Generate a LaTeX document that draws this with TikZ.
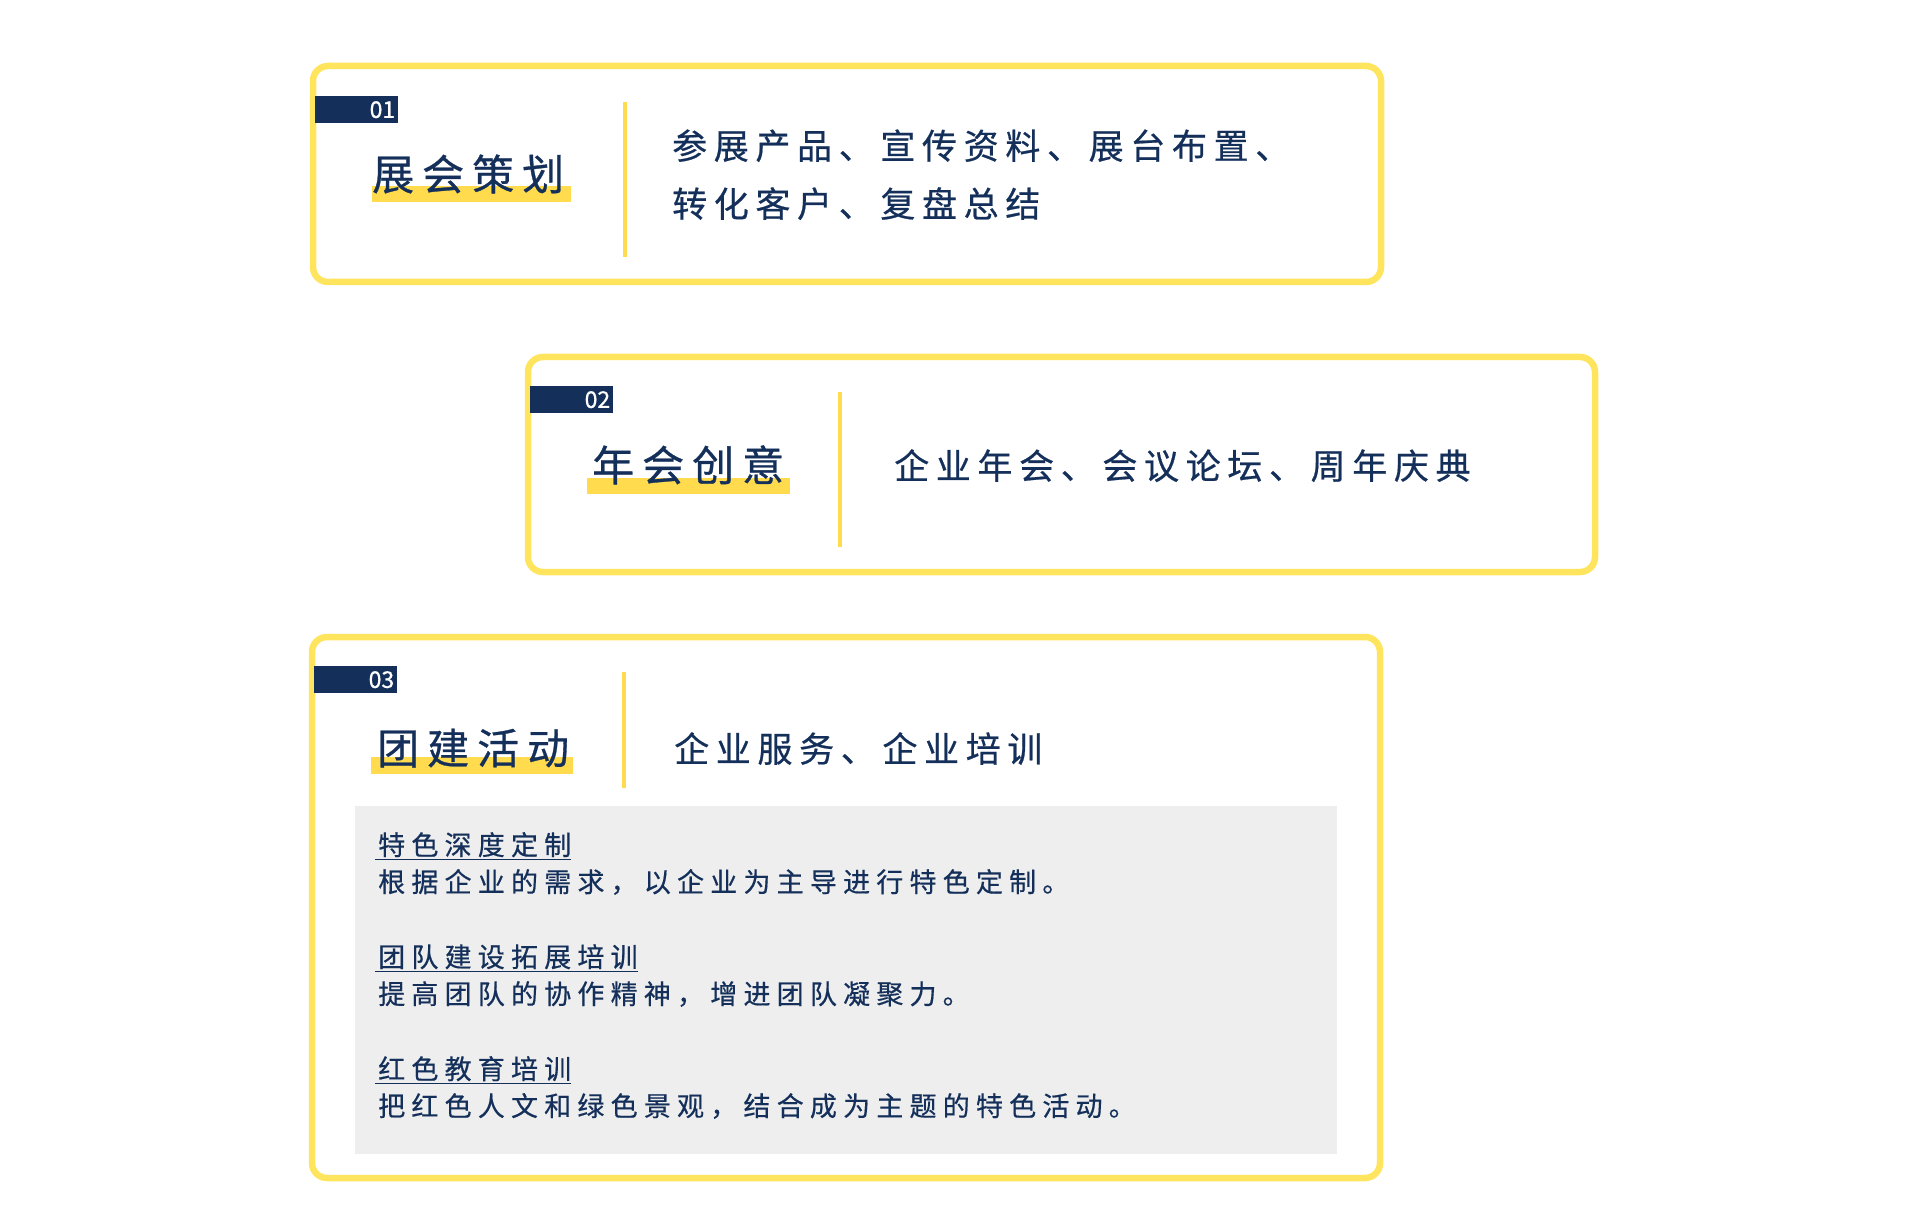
\documentclass[tikz,border=0pt]{standalone}
\usepackage{fontspec}
\usetikzlibrary{positioning, backgrounds}

\newfontfamily\titlefont{Noto Sans CJK SC}[LetterSpace=19, FakeBold=0.7]
\newfontfamily\descfont{Noto Sans CJK SC}[LetterSpace=19, FakeBold=0.6]
\newfontfamily\itemfont{Noto Sans CJK SC}[LetterSpace=23, FakeBold=0.5]
\newfontfamily\numfont{Noto Sans CJK SC}[FakeBold=0.8]

\definecolor{navy}{HTML}{14305A}
\definecolor{cardyellow}{HTML}{FFE45E}
\definecolor{markyellow}{HTML}{FFDB4D}
\definecolor{panelgray}{HTML}{EEEEEE}

\begin{document}
\begin{tikzpicture}[x=1pt, y=-1pt]

        \tikzstyle{card} = [draw=cardyellow, line width=6.5pt, rounded corners=15pt];
        \tikzstyle{tagbox} = [fill=navy, anchor=north west, minimum width=83pt, minimum height=27pt, inner sep=0];
        \tikzstyle{tagnum} = [anchor=east, inner sep=0, text=white, font=\numfont\fontsize{23}{23}\selectfont];
        \tikzstyle{headline} = [anchor=base west, inner sep=0, text=navy, font=\titlefont\fontsize{42}{50}\selectfont];
        \tikzstyle{desc} = [anchor=base west, inner sep=0, text=navy, font=\descfont\fontsize{35}{42}\selectfont];
        \tikzstyle{itemtext} = [anchor=base west, inner sep=0, text=navy, font=\itemfont\fontsize{27}{33}\selectfont];
        \tikzstyle{divider} = [draw=markyellow, line width=3.5pt];
        \tikzstyle{hilite} = [fill=markyellow];
        \tikzstyle{rule} = [draw=navy, line width=1.5pt];

        \begin{scope}[on background layer]
            \fill[white] (0,0) rectangle (1920,1230);
        \end{scope}
        \useasboundingbox (0,0) rectangle (1920,1230);

        % Top - Card 1
        \draw[card] (313,66) rectangle (1381,282);
        \node[tagbox] (N1) at (315,96) {};
        \node[tagnum] at ([xshift=-3pt]N1.east) {01};

        \node[headline] (T1) at (372,190) {展会策划};
        \draw[divider] (625,102) -- (625,257);

        \node[desc] (D1) at (672,159) {参展产品、宣传资料、展台布置、};
        \node[desc] (D1b) at ([yshift=-58pt]D1.base west) {转化客户、复盘总结};
        % Top - Card 1

        % Middle - Card 2
        \draw[card] (528,357) rectangle (1595,572);
        \node[tagbox] (N2) at (530,386) {};
        \node[tagnum] at ([xshift=-3pt]N2.east) {02};

        \node[headline] (T2) at (592,481) {年会创意};
        \draw[divider] (840,392) -- (840,547);

        \node[desc] (D2) at (894,479) {企业年会、会议论坛、周年庆典};
        % Middle - Card 2

        % Bottom - Card 3
        \draw[card] (312,637) rectangle (1380,1178);
        \node[tagbox] (N3) at (314,666) {};
        \node[tagnum] at ([xshift=-3pt]N3.east) {03};

        \node[headline] (T3) at (377,764) {团建活动};
        \draw[divider] (624,672) -- (624,788);

        \node[desc] (D3) at (674,762) {企业服务、企业培训};

        \fill[panelgray] (355,806) rectangle (1337,1154);

        \node[itemtext] (I1) at (378,855) {特色深度定制};
        \node[itemtext] (E1) at ([yshift=-37pt]I1.base west) {根据企业的需求，以企业为主导进行特色定制。};

        \node[itemtext] (I2) at ([yshift=-112pt]I1.base west) {团队建设拓展培训};
        \node[itemtext] (E2) at ([yshift=-37pt]I2.base west) {提高团队的协作精神，增进团队凝聚力。};

        \node[itemtext] (I3) at ([yshift=-112pt]I2.base west) {红色教育培训};
        \node[itemtext] (E3) at ([yshift=-37pt]I3.base west) {把红色人文和绿色景观，结合成为主题的特色活动。};

        \draw[rule] ([xshift=-3pt, yshift=-4.5pt]I1.base west) -- ([xshift=0pt, yshift=-4.5pt]I1.base east);
        \draw[rule] ([xshift=-3pt, yshift=-4.5pt]I2.base west) -- ([xshift=0pt, yshift=-4.5pt]I2.base east);
        \draw[rule] ([xshift=-3pt, yshift=-4.5pt]I3.base west) -- ([xshift=0pt, yshift=-4.5pt]I3.base east);
        % Bottom - Card 3

        % Highlights under titles
        \begin{scope}[on background layer]
            \fill[hilite] ([yshift=4pt]T1.base west) rectangle ([xshift=7pt, yshift=-12pt]T1.base east);
            \fill[hilite] ([xshift=-5pt, yshift=3pt]T2.base west) rectangle ([xshift=6pt, yshift=-13pt]T2.base east);
            \fill[hilite] ([xshift=-6pt, yshift=7pt]T3.base west) rectangle ([xshift=4pt, yshift=-10pt]T3.base east);
        \end{scope}

\end{tikzpicture}
\end{document}
